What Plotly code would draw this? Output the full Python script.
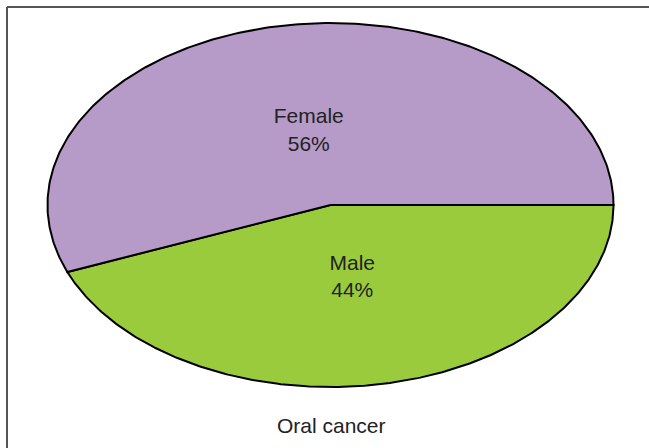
import numpy as np
import plotly.graph_objects as go

labels = ["Male", "Female"]
values = [44, 56]
colors = ["#9ACB3D", "#B69AC8"]
title_text = "Oral cancer"

W, H = 649, 448
cx, cy, rx, ry = 330.5, 205, 283, 182

fig = go.Figure()
total = sum(values)
start = 0.0  # degrees, clockwise from 3 o'clock
label_x, label_y, label_t = [], [], []
for lab, val, col in zip(labels, values, colors):
    span = 360.0 * val / total
    ang = np.radians(-(start + np.linspace(0, span, 300)))
    xs = np.concatenate([[0], np.cos(ang), [0]])
    ys = np.concatenate([[0], np.sin(ang), [0]])
    fig.add_trace(go.Scatter(x=xs, y=ys, mode="lines", fill="toself",
                             fillcolor=col, line=dict(color="#000000", width=2),
                             hoverinfo="skip", showlegend=False))
    mid = np.radians(-(start + span / 2))
    label_x.append(0.41 * np.cos(mid))
    label_y.append(0.41 * np.sin(mid))
    label_t.append(f"{lab}<br>{round(100 * val / total)}%")
    start += span

fig.add_trace(go.Scatter(x=label_x, y=label_y, mode="text", text=label_t,
                         textposition="middle center",
                         textfont=dict(family="Liberation Sans, Arial", size=21, color="#222222"),
                         hoverinfo="skip", showlegend=False))

fig.update_layout(
    width=W, height=H,
    margin=dict(l=0, r=0, t=0, b=0),
    paper_bgcolor="white", plot_bgcolor="white",
    xaxis=dict(range=[-cx / rx, (W - cx) / rx], visible=False, fixedrange=True),
    yaxis=dict(range=[-(H - cy) / ry, cy / ry], visible=False, fixedrange=True),
    annotations=[dict(text=title_text, x=0.511, y=1 - 425 / H, xref="paper", yref="paper",
                      showarrow=False, xanchor="center", yanchor="middle",
                      font=dict(family="Liberation Sans, Arial", size=21, color="#222222"))],
    shapes=[
        dict(type="line", xref="paper", yref="paper", x0=7 / W, x1=1, y0=1 - 7 / H, y1=1 - 7 / H,
             line=dict(color="#555555", width=2)),
        dict(type="line", xref="paper", yref="paper", x0=7 / W, x1=7 / W, y0=0, y1=1 - 7 / H,
             line=dict(color="#555555", width=2)),
    ],
)

fig.write_html("out.html")
